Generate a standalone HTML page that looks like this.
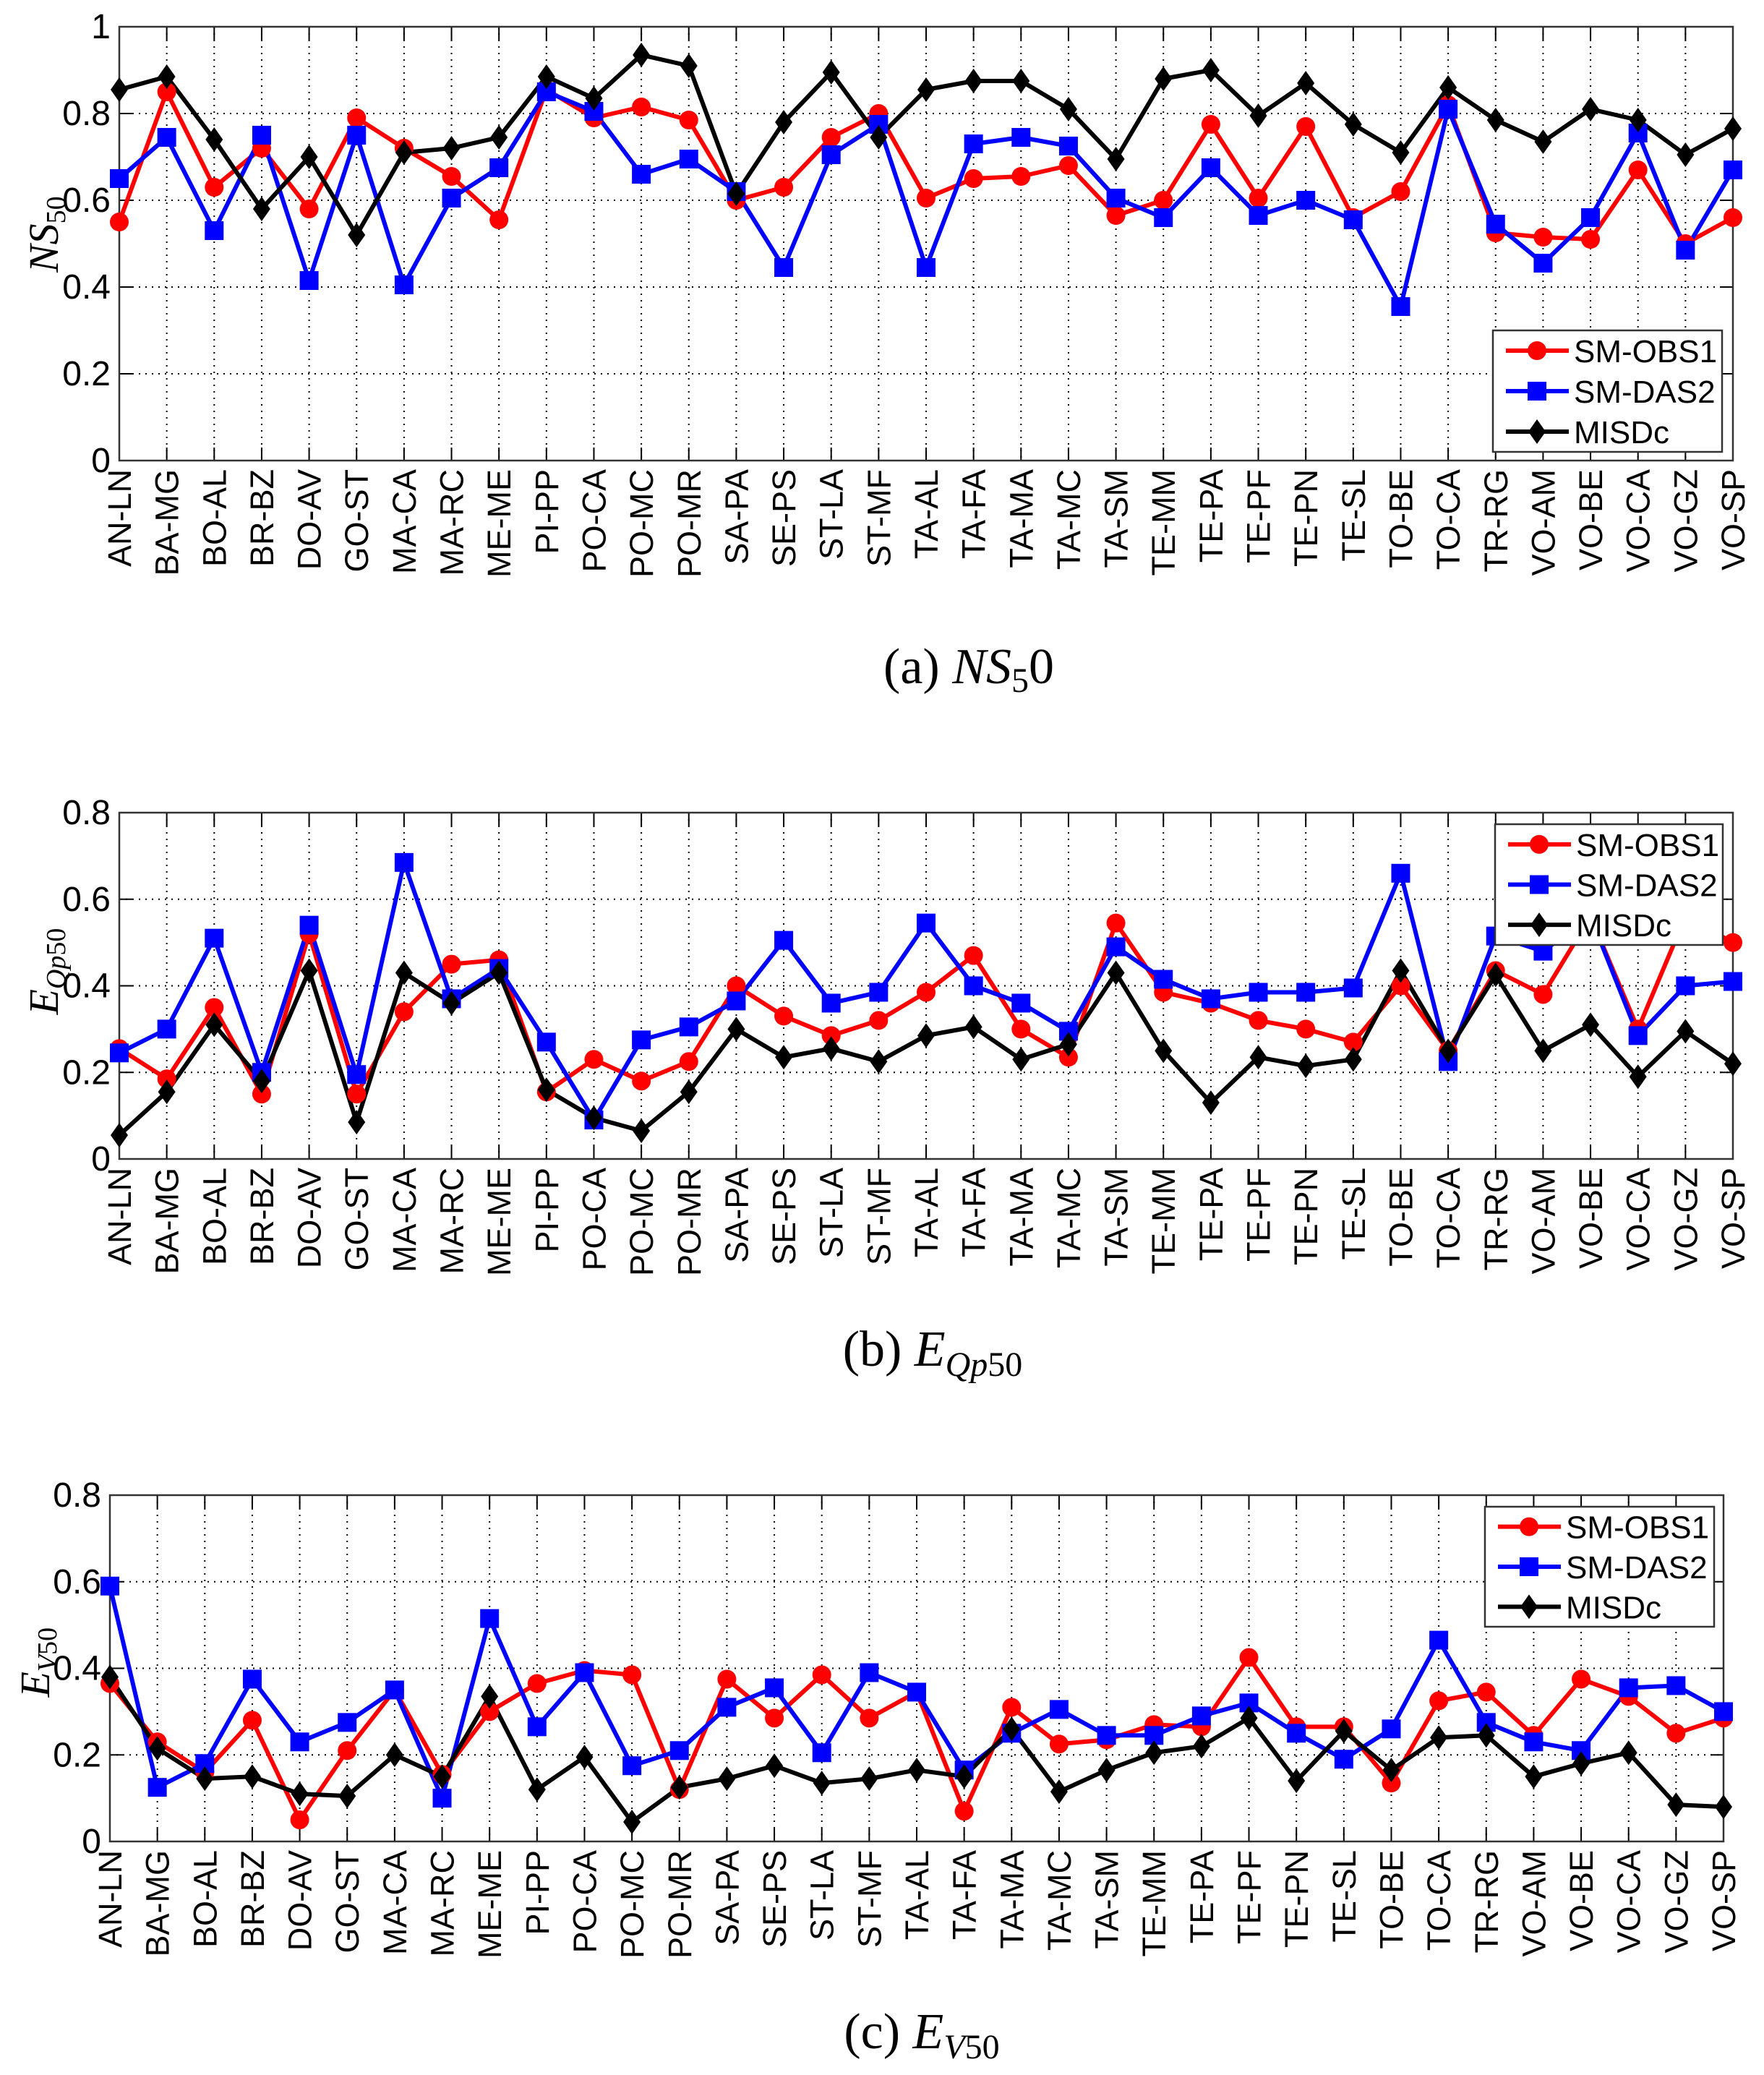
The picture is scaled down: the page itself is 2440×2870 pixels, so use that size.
<!DOCTYPE html>
<html><head><meta charset="utf-8"><style>
html,body{margin:0;padding:0;background:#fff;}
svg{display:block;font-family:"Liberation Sans",Arial,sans-serif;}
</style></head>
<body>
<svg id="fig" width="2440" height="2870" viewBox="0 0 2440 2870" xmlns="http://www.w3.org/2000/svg">
<rect width="2440" height="2870" fill="#fff"/>
<g id="panels"></g>
<text x="1340" y="945" font-family="Liberation Serif,serif" font-size="70" text-anchor="middle">(a)  <tspan font-style="italic">NS</tspan><tspan font-size="48" dy="12">5</tspan><tspan dy="-12">0</tspan></text>
<text x="1290" y="1889" font-family="Liberation Serif,serif" font-size="70" text-anchor="middle">(b)  <tspan font-style="italic">E</tspan><tspan font-size="48" font-style="italic" dy="14">Qp</tspan><tspan font-size="48" dy="0">50</tspan></text>
<text x="1275" y="2833" font-family="Liberation Serif,serif" font-size="70" text-anchor="middle">(c)  <tspan font-style="italic">E</tspan><tspan font-size="48" font-style="italic" dy="14">V</tspan><tspan font-size="48" dy="0">50</tspan></text>
</svg>
<script>
const categories=["AN-LN","BA-MG","BO-AL","BR-BZ","DO-AV","GO-ST","MA-CA","MA-RC","ME-ME","PI-PP","PO-CA","PO-MC","PO-MR","SA-PA","SE-PS","ST-LA","ST-MF","TA-AL","TA-FA","TA-MA","TA-MC","TA-SM","TE-MM","TE-PA","TE-PF","TE-PN","TE-SL","TO-BE","TO-CA","TR-RG","VO-AM","VO-BE","VO-CA","VO-GZ","VO-SP"];
const seriesNames=["SM-OBS1","SM-DAS2","MISDc"];
const ns50Obs=[.55,.85,.63,.72,.58,.79,.72,.655,.555,.855,.79,.815,.785,.60,.63,.745,.80,.605,.65,.655,.68,.565,.60,.775,.605,.77,.56,.62,.82,.525,.515,.51,.67,.50,.56];
const ns50Das=[.65,.745,.53,.75,.415,.75,.405,.605,.675,.85,.805,.66,.695,.62,.445,.705,.775,.445,.73,.745,.725,.605,.56,.675,.565,.60,.555,.355,.81,.545,.455,.56,.755,.485,.67];
const ns50Misdc=[.855,.885,.74,.58,.70,.52,.71,.72,.745,.885,.835,.935,.91,.615,.78,.895,.745,.855,.875,.875,.81,.695,.88,.90,.795,.87,.775,.71,.86,.785,.735,.81,.785,.705,.765];
const eqpObs=[.255,.185,.35,.15,.52,.15,.34,.45,.46,.155,.23,.18,.225,.40,.33,.285,.32,.385,.47,.30,.235,.545,.385,.36,.32,.30,.27,.40,.25,.435,.38,.56,.30,.56,.50];
const eqpDas=[.245,.30,.51,.20,.54,.195,.685,.37,.44,.27,.09,.275,.305,.365,.505,.36,.385,.545,.40,.36,.295,.49,.415,.37,.385,.385,.395,.66,.225,.515,.48,.56,.285,.40,.41];
const eqpMisdc=[.055,.155,.31,.18,.435,.085,.43,.36,.43,.16,.095,.065,.155,.30,.235,.255,.225,.285,.305,.23,.265,.43,.25,.13,.235,.215,.23,.435,.25,.425,.25,.31,.19,.295,.22];
const evObs=[.365,.23,.16,.28,.05,.21,.35,.155,.30,.365,.395,.385,.12,.375,.285,.385,.285,.345,.07,.31,.225,.235,.27,.265,.425,.265,.265,.135,.325,.345,.245,.375,.335,.25,.285];
const evDas=[.59,.125,.18,.375,.23,.275,.35,.10,.515,.265,.39,.175,.21,.31,.355,.205,.39,.345,.165,.25,.305,.245,.245,.29,.32,.25,.19,.26,.465,.275,.23,.21,.355,.36,.30];
const evMisdc=[.38,.215,.145,.15,.11,.105,.20,.15,.335,.12,.195,.045,.125,.145,.175,.135,.145,.165,.15,.26,.115,.165,.205,.22,.285,.14,.255,.165,.24,.245,.15,.18,.205,.085,.08];
const ticksA=["0","0.2","0.4","0.6","0.8","1"];
const ticksB=["0","0.2","0.4","0.6","0.8"];
const ticksC=["0","0.2","0.4","0.6","0.8"];

const NS="http://www.w3.org/2000/svg";
const colors=["#ff0000","#0000ff","#000000"];
function mk(tag,attrs,parent){const e=document.createElementNS(NS,tag);for(const k in attrs)e.setAttribute(k,attrs[k]);parent.appendChild(e);return e;}
function marker(g,kind,x,y,c){
  let m;
  if(kind===0){m=mk("circle",{cx:x,cy:y,r:13,fill:c},g);}
  else if(kind===1){m=mk("rect",{x:x-13,y:y-13,width:26,height:26,fill:c},g);}
  else{m=mk("polygon",{points:`${x},${y-17} ${x+12},${y} ${x},${y+17} ${x-12},${y}`,fill:c},g);}
  
  
}
function panel(id,L,R,T,B,ymax,ticks,series,leg,ylab){
  const root=document.getElementById("panels");
  const g=mk("g",{},root);
  
  
  const n=categories.length;
  const xs=i=>L+(R-L)*i/(n-1);
  const ys=v=>B-(B-T)*v/ymax;
  ticks.forEach(t=>{const v=parseFloat(t);const y=ys(v);
    if(v>0&&v<ymax){const gl=mk("line",{x1:L,x2:R,y1:y,y2:y,stroke:"#000","stroke-width":2,"stroke-dasharray":"2,7"},g);
      }
    mk("line",{x1:L,x2:L+18,y1:y,y2:y,stroke:"#000","stroke-width":2},g);
    mk("line",{x1:R,x2:R-18,y1:y,y2:y,stroke:"#000","stroke-width":2},g);
    const tl=mk("text",{x:L-12,y:y+16,"font-size":48,"text-anchor":"end"},g);tl.textContent=t;
    
  });
  categories.forEach((c,i)=>{const x=xs(i);
    if(i>0&&i<n-1){const gl=mk("line",{x1:x,x2:x,y1:T,y2:B,stroke:"#000","stroke-width":2,"stroke-dasharray":"2,7"},g);
      }
    mk("line",{x1:x,x2:x,y1:B,y2:B-18,stroke:"#000","stroke-width":2},g);
    mk("line",{x1:x,x2:x,y1:T,y2:T+18,stroke:"#000","stroke-width":2},g);
    const tl=mk("text",{transform:`translate(${x+16},${B+12}) rotate(-90)`,"font-size":45,"text-anchor":"end"},g);tl.textContent=c;
    
  });
  const fr=mk("rect",{x:L,y:T,width:R-L,height:B-T,fill:"none",stroke:"#333","stroke-width":2.5},g);
  
  series.forEach((vals,s)=>{
    const pts=vals.map((v,i)=>xs(i)+","+ys(v)).join(" ");
    const pl=mk("polyline",{points:pts,fill:"none",stroke:colors[s],"stroke-width":6,"stroke-linejoin":"round"},g);
    
    
  });
  series.forEach((vals,s)=>{vals.forEach((v,i)=>marker(g,s,xs(i),ys(v),colors[s]));});
  const lg=mk("g",{},g);
  
  
  mk("rect",{x:leg[0],y:leg[1],width:leg[2]-leg[0],height:leg[3]-leg[1],fill:"#fff",stroke:"#333","stroke-width":2.5},lg);
  const rh=(leg[3]-leg[1])/3;
  seriesNames.forEach((nm,s)=>{const y=leg[1]+rh*(s+0.5);
    mk("line",{x1:leg[0]+18,x2:leg[0]+105,y1:y,y2:y,stroke:colors[s],"stroke-width":6},lg);
    marker(lg,s,leg[0]+61,y,colors[s]);
    const t=mk("text",{x:leg[0]+112,y:y+16,"font-size":44},lg);t.textContent=nm;
    
  });
  const yl=mk("text",{transform:`translate(${ylab[0]},${(T+B)/2+40}) rotate(-90)`,"font-family":"Liberation Serif,serif","font-size":58,"font-style":"italic"},g);
  
  yl.innerHTML=ylab[1];
}
panel("panel-ns50",165,2397,37,637,1,ticksA,[ns50Obs,ns50Das,ns50Misdc],[2065,457,2382,625],[80,'NS<tspan font-size="38" font-style="normal" dy="10">50</tspan>']);
panel("panel-eqp50",165,2397,1124,1603,0.8,ticksB,[eqpObs,eqpDas,eqpMisdc],[2068,1140,2383,1307],[80,'E<tspan font-size="38" dy="10">Qp</tspan><tspan font-size="38" font-style="normal">50</tspan>']);
panel("panel-ev50",152,2384,2068,2547,0.8,ticksC,[evObs,evDas,evMisdc],[2054,2084,2371,2250],[68,'E<tspan font-size="38" dy="10">V</tspan><tspan font-size="38" font-style="normal">50</tspan>']);
</script>
</body></html>
